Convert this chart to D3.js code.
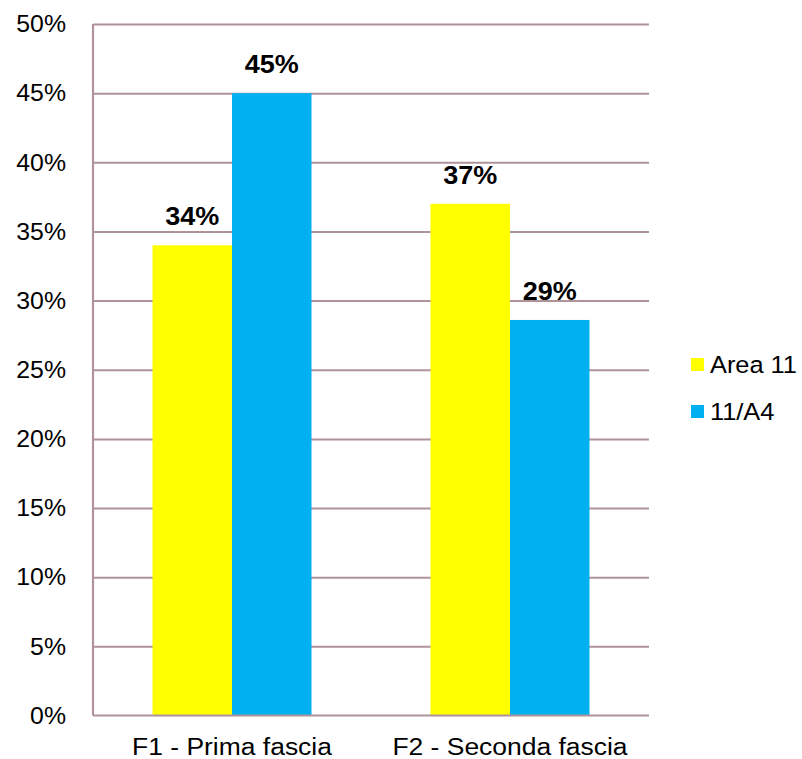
<!DOCTYPE html>
<meta charset="utf-8">
<style>
  body { margin: 0; background: #fff; }
  svg { display: block; }
  text { font-family: "Liberation Sans", Arial, sans-serif; fill: #000; }
  .grid line { stroke: #B09398; stroke-width: 2px; }
  .grid path { stroke-width: 0; }
</style>
<body>
<script src="https://d3js.org/d3.v7.min.js"></script>
<script>

  // chart data
  var categories = ["F1 - Prima fascia", "F2 - Seconda fascia"];
  var seriesNames = ["Area 11", "11/A4"];
  var seriesColors = ["#FFFF00", "#00B0F0"];
  var area11 = [0.34, 0.37];
  var a4 = [0.45, 0.286];
  var yTicks = [0, 0.05, 0.10, 0.15, 0.20, 0.25, 0.30, 0.35, 0.40, 0.45, 0.50];

  // the source picture is a bit wider than tall, so stretch the drawing horizontally
  var stretch = 1.08;
  var W = 802 / stretch, H = 759;

  var margin = {top: 24, left: 93 / stretch, right: W - 649 / stretch, bottom: H - 715.5};
  var width = W - margin.left - margin.right,
      height = H - margin.top - margin.bottom;

  var svg = d3.select("body").append("svg")
      .attr("width", 802)
      .attr("height", 759)
      .attr("viewBox", "0 0 " + W + " " + H)
      .attr("preserveAspectRatio", "none");

  var g = svg.append("g")
      .attr("transform", "translate(" + margin.left + "," + margin.top + ")");

  var x0 = d3.scaleBand().domain(categories).range([0, width])
      .paddingInner(0.428).paddingOuter(0.214);
  var x1 = d3.scaleBand().domain(seriesNames).range([0, x0.bandwidth()]);
  var y = d3.scaleLinear().domain([0, 0.5]).range([height, 0]);

  // horizontal gridlines
  g.append("g")
      .attr("class", "grid")
      .call(d3.axisLeft(y).tickValues(yTicks.slice(1)).tickSize(-width).tickFormat(""));

  // bars
  var rows = categories.map(function(c, i) {
    return {cat: c, vals: [area11[i], a4[i]]};
  });

  var groups = g.selectAll(".grp")
      .data(rows)
    .enter().append("g")
      .attr("class", "grp")
      .attr("transform", function(d) { return "translate(" + x0(d.cat) + ",0)"; });

  groups.selectAll("rect")
      .data(function(d) { return d.vals.map(function(v, j) { return {name: seriesNames[j], v: v, j: j}; }); })
    .enter().append("rect")
      .attr("x", function(d) { return x1(d.name); })
      .attr("width", x1.bandwidth())
      .attr("y", function(d) { return y(d.v); })
      .attr("height", function(d) { return height - y(d.v); })
      .style("fill", function(d) { return seriesColors[d.j]; });

  groups.selectAll(".lbl")
      .data(function(d) { return d.vals.map(function(v, j) { return {name: seriesNames[j], v: v}; }); })
    .enter().append("text")
      .attr("class", "lbl")
      .attr("x", function(d) { return x1(d.name) + x1.bandwidth() / 2; })
      .attr("y", function(d) { return y(d.v) - 20; })
      .attr("text-anchor", "middle")
      .style("font-size", "25px")
      .style("font-weight", "bold")
      .text(function(d) { return Math.round(d.v * 100) + "%"; });

  // axes lines
  g.append("line")
      .attr("x1", 0).attr("x2", 0).attr("y1", 0).attr("y2", height)
      .style("stroke", "#B09398").style("stroke-width", "2px");
  g.append("line")
      .attr("x1", 0).attr("x2", width).attr("y1", height).attr("y2", height)
      .style("stroke", "#B09398").style("stroke-width", "2px");

  // y tick labels
  g.selectAll(".ytick")
      .data(yTicks)
    .enter().append("text")
      .attr("class", "ytick")
      .attr("x", -27 / stretch)
      .attr("y", function(d) { return y(d); })
      .attr("dy", "0.36em")
      .attr("text-anchor", "end")
      .style("font-size", "23px")
      .text(function(d) { return Math.round(d * 100) + "%"; });

  // x category labels
  g.selectAll(".xcat")
      .data(categories)
    .enter().append("text")
      .attr("class", "xcat")
      .attr("x", function(d) { return x0(d) + x0.bandwidth() / 2; })
      .attr("y", height + 40)
      .attr("text-anchor", "middle")
      .style("font-size", "24.5px")
      .text(function(d) { return d; });

  // legend
  var legend = svg.selectAll(".leg")
      .data(seriesNames)
    .enter().append("g")
      .attr("class", "leg")
      .attr("transform", function(d, i) { return "translate(" + (691 / stretch) + "," + (358 + i * 47) + ")"; });

  legend.append("rect")
      .attr("width", 13 / stretch)
      .attr("height", 13)
      .style("fill", function(d, i) { return seriesColors[i]; });

  legend.append("text")
      .attr("x", 19 / stretch)
      .attr("y", 15)
      .style("font-size", "23.5px")
      .text(function(d) { return d; });

</script>
</body>
